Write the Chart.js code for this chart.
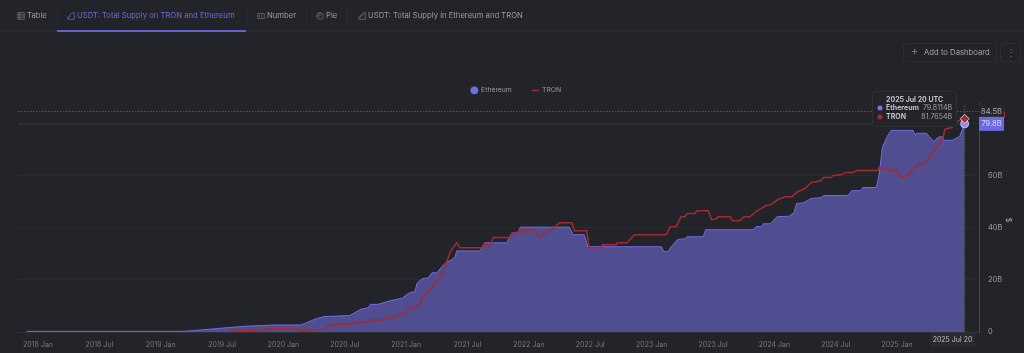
<!DOCTYPE html>
<html>
<head>
<meta charset="utf-8">
<style>
  html, body { margin: 0; padding: 0; width: 1024px; height: 353px; overflow: hidden; background: #232429; font-family: Inter, "Noto Sans", sans-serif; }
  #grafico { position: absolute; left: 0; top: 0; }
  .abas { position: absolute; left: 0; top: 0; width: 1024px; height: 31px; border-bottom: 1px solid #2a2b31; }
  .aba { position: absolute; top: 10px; font-size: 7.7px; line-height: 12px; color: #9a9ba1; white-space: nowrap; }
  .aba svg { position: absolute; left: -10px; top: 2px; }
  .aba.ativa { color: #6c6ad8; }
  .sep { position: absolute; top: 8px; width: 1px; height: 16px; background: #2b2c32; }
  .sublinha { position: absolute; left: 57px; top: 30px; width: 189px; height: 2px; background: #6461d0; }
  .botao { position: absolute; top: 43px; height: 17px; border: 1px solid #2c2d33; border-radius: 3px; color: #a0a1a7; font-size: 7.7px; line-height: 17px; }
</style>
</head>
<body>
<canvas id="grafico" width="1024" height="353"></canvas>
<div class="abas">
  <div class="aba" style="left:27px"><svg width="8" height="8" viewBox="0 0 11 11" fill="none" stroke="#77787e"><path d="M1 1h9v9H1zM1 4h9M1 7h9M4 1v9"/></svg>Table</div>
  <div class="sep" style="left:57px"></div>
  <div class="aba ativa" style="left:77px"><svg width="8" height="8" viewBox="0 0 11 11" fill="none" stroke="#6c6ad8"><path d="M1 10V7h3V4l3-3h3v9z"/></svg>USDT: Total Supply on TRON and Ethereum</div>
  <div class="sep" style="left:247px"></div>
  <div class="aba" style="left:267px"><svg width="8" height="8" viewBox="0 0 11 11" fill="none" stroke="#77787e"><path d="M1 2h9v7H1zM3.500 4v3M6 4v3"/></svg>Number</div>
  <div class="sep" style="left:306px"></div>
  <div class="aba" style="left:326px"><svg width="8" height="8" viewBox="0 0 11 11" fill="none" stroke="#77787e"><circle cx="5.500" cy="5.500" r="4.500"/><path d="M5.500 1v4.500H1"/></svg>Pie</div>
  <div class="sep" style="left:347px"></div>
  <div class="aba" style="left:368px"><svg width="8" height="8" viewBox="0 0 11 11" fill="none" stroke="#77787e"><path d="M1 10V7h3V4h3V1h3v9z"/></svg>USDT: Total Supply in Ethereum and TRON</div>
  <div class="sublinha"></div>
</div>
<div class="botao" style="left:903px;width:92px;"><span style="position:absolute;left:7px;top:-1px;font-size:11px;color:#85868c">+</span><span style="position:absolute;left:20px;white-space:nowrap">Add to Dashboard</span></div>
<div class="botao" style="left:1000px;width:19px;text-align:center;color:#6f7076;font-size:10px;line-height:16px">⋮</div>

<script src="https://cdn.jsdelivr.net/npm/chart.js@4"></script>
<script>
// datas em ano decimal (2021.5 = meio de 2021), valores em bilhoes de USDT
const anosEthereum = [
  2017.91, 2019.18, 2019.26, 2019.53, 2019.69, 2019.93, 2020.14, 2020.18, 2020.26, 2020.33,
  2020.54, 2020.63, 2020.69, 2020.71, 2020.77, 2020.87, 2020.97, 2021.02, 2021.07, 2021.09,
  2021.13, 2021.18, 2021.21, 2021.25, 2021.29, 2021.32, 2021.37, 2021.40, 2021.41, 2021.60,
  2021.64, 2021.82, 2021.86, 2021.91, 2021.93, 2022.33, 2022.36, 2022.45, 2022.48, 2023.08,
  2023.10, 2023.13, 2023.16, 2023.21, 2023.27, 2023.29, 2023.42, 2023.44, 2023.83, 2023.85,
  2023.90, 2023.91, 2023.97, 2024.02, 2024.12, 2024.16, 2024.18, 2024.24, 2024.30, 2024.38,
  2024.40, 2024.60, 2024.63, 2024.70, 2024.72, 2024.83, 2024.85, 2024.86, 2024.88, 2024.92,
  2024.95, 2025.13, 2025.15, 2025.16, 2025.24, 2025.26, 2025.30, 2025.33, 2025.37, 2025.38,
  2025.45, 2025.51, 2025.55
];
const valoresEthereum = [
  0.25, 0.25, 0.5, 1.6, 2.2, 2.7, 2.7, 3.4, 5, 5.9,
  6.3, 8.7, 9.3, 10.6, 10.6, 12, 13, 14.9, 15.5, 18.8,
  20.4, 20.8, 22.7, 22.7, 25, 26.5, 27.7, 28.8, 31.1, 31.1,
  34.2, 34.2, 38, 38, 40.2, 40.2, 37.3, 37.3, 32.7, 32.7,
  30.8, 30.8, 32.7, 35.4, 35.8, 36.5, 36.5, 39.2, 39.2, 40.4,
  40.4, 41.5, 41.5, 44.2, 44.4, 45.8, 49.2, 49.6, 51.2, 51.5,
  52.3, 52.3, 54.2, 54.2, 55.4, 55.4, 59.6, 63, 70.8, 75,
  77.3, 77.3, 75.4, 76.2, 76.2, 75, 73, 74.6, 75, 73.5,
  73.5, 75, 79.8
];

const anosTron = [
  2019.57, 2019.81, 2019.87, 2020.11, 2020.15, 2020.33, 2020.37, 2020.42, 2020.56, 2020.59,
  2020.67, 2020.69, 2020.80, 2020.87, 2020.98, 2021.02, 2021.11, 2021.13, 2021.17, 2021.26,
  2021.29, 2021.32, 2021.36, 2021.41, 2021.44, 2021.62, 2021.64, 2021.68, 2021.71, 2021.85,
  2021.86, 2021.90, 2021.93, 2021.95, 2021.98, 2021.99, 2022.01, 2022.05, 2022.08, 2022.11,
  2022.195, 2022.25, 2022.35, 2022.37, 2022.47, 2022.49, 2022.59, 2022.60, 2022.71, 2022.72,
  2022.80, 2022.86, 2023.12, 2023.15, 2023.20, 2023.24, 2023.27, 2023.29, 2023.35, 2023.37,
  2023.46, 2023.49, 2023.53, 2023.54, 2023.64, 2023.66, 2023.72, 2023.75, 2023.80, 2023.86,
  2023.89, 2023.93, 2023.97, 2024.03, 2024.09, 2024.145, 2024.19, 2024.25, 2024.30, 2024.38,
  2024.40, 2024.46, 2024.48, 2024.55, 2024.58, 2024.64, 2024.675, 2024.84, 2024.85, 2024.89,
  2024.93, 2025.00, 2025.02, 2025.07, 2025.12, 2025.17, 2025.23, 2025.27, 2025.33, 2025.37,
  2025.39, 2025.45, 2025.49, 2025.55
];
const valoresTron = [
  0.4, 0.8, 1.2, 1.2, 0.6, 1.1, 2.3, 3, 3, 3.8,
  3.8, 4.6, 4.6, 5.4, 6.9, 8.8, 10.4, 13.5, 15, 20,
  21.9, 25.8, 30.8, 34.2, 32.3, 32.3, 34.2, 32.7, 36.2, 36.2,
  38, 38, 39.2, 38, 39.2, 38, 39.6, 38.8, 36.5, 37.3,
  39.6, 41.9, 41.9, 38.8, 38.8, 32.3, 32.3, 33.5, 33.5, 34.2,
  34.2, 37.3, 37.3, 40.4, 40.4, 44.2, 44.2, 45.4, 45.4, 46.5,
  46.5, 43, 43.5, 44.2, 44.2, 42.7, 42.7, 44.2, 44.2, 46.5,
  47.3, 48.5, 48.8, 50.8, 51.9, 51.9, 53.8, 55, 57.3, 58,
  59.2, 59.2, 60, 60.4, 61.2, 61.2, 61.9, 61.9, 63, 62.7,
  61.9, 61.9, 59.6, 59.6, 61.9, 64.2, 64.6, 68, 71.2, 73.8,
  77.7, 78.5, 80.8, 81.8
];

const ticksX = [2018, 2018.5, 2019, 2019.5, 2020, 2020.5, 2021, 2021.5, 2022, 2022.5, 2023, 2023.5, 2024, 2024.5, 2025];
const rotulosX = ['2018 Jan', '2018 Jul', '2019 Jan', '2019 Jul', '2020 Jan', '2020 Jul', '2021 Jan', '2021 Jul', '2022 Jan', '2022 Jul', '2023 Jan', '2023 Jul', '2024 Jan', '2024 Jul', '2025 Jan'];
const ticksY = [0, 20, 40, 60, 80];

const anoFinal = 2025.55;
const finalEthereum = 79.8114;
const finalTron = 81.7654;
const topoCursor = 84.5;

function pontos(anos, valores) {
  return anos.map((ano, i) => ({ x: ano, y: valores[i] }));
}

// caixinha de rotulo no eixo da direita
function rotuloEixo(c, texto, y, fundo, cor) {
  c.fillStyle = fundo;
  c.fillRect(979, y - 7, 25, 14);
  c.fillStyle = cor;
  c.font = '7.5px Inter';
  c.textAlign = 'center';
  c.textBaseline = 'middle';
  c.fillText(texto, 991.5, y);
}

const cursor = {
  id: 'cursor',
  afterDatasetsDraw(chart) {
    const c = chart.ctx;
    const sx = chart.scales.x;
    const sy = chart.scales.y;
    const xFim = sx.getPixelForValue(anoFinal);
    const yEth = sy.getPixelForValue(finalEthereum);
    const yTron = sy.getPixelForValue(finalTron);
    const yTopo = Math.round(sy.getPixelForValue(topoCursor)) - 0.5;

    c.save();
    // linhas do cursor
    c.lineWidth = 1;
    c.strokeStyle = '#56575c';
    c.setLineDash([1.5, 1.5]);
    c.beginPath();
    c.moveTo(sx.left, yTopo);
    c.lineTo(sx.right, yTopo);
    c.moveTo(xFim, yTopo - 6);
    c.lineTo(xFim, sy.bottom);
    c.stroke();
    c.setLineDash([]);
    c.strokeStyle = '#2e3331';
    c.beginPath();
    c.moveTo(sx.left, Math.round(yEth) + 0.5);
    c.lineTo(xFim, Math.round(yEth) + 0.5);
    c.stroke();

    // marcadores no ultimo ponto
    c.fillStyle = '#8f8df0';
    c.strokeStyle = '#c8c8dc';
    c.lineWidth = 1;
    c.beginPath();
    c.arc(xFim, yEth, 4, 0, Math.PI * 2);
    c.fill();
    c.stroke();
    c.fillStyle = '#a82a35';
    c.beginPath();
    c.moveTo(xFim, yTron - 4.5);
    c.lineTo(xFim + 4.5, yTron);
    c.lineTo(xFim, yTron + 4.5);
    c.lineTo(xFim - 4.5, yTron);
    c.closePath();
    c.fill();
    c.stroke();

    // rotulos do eixo y
    c.fillStyle = '#b02a30';
    c.fillRect(1003, yTopo, 2, 6);
    rotuloEixo(c, '84.5B', yTopo, '#26272c', '#a9aab0');
    rotuloEixo(c, '79.8B', yEth, '#6d6ae0', '#d8d8f5');

    // rotulo da data embaixo
    c.fillStyle = '#2a2b30';
    c.fillRect(930, 333, 45, 14);
    c.fillStyle = '#bcbdc2';
    c.font = '7px Inter';
    c.textAlign = 'center';
    c.textBaseline = 'middle';
    c.fillText('2025 Jul 20', 952.5, 340);

    // simbolo do eixo
    c.translate(1008, 220);
    c.rotate(Math.PI / 2);
    c.fillStyle = '#a9aab0';
    c.fillText('$', 0, 0);
    c.restore();

    // caixa da tooltip
    c.save();
    c.fillStyle = '#232429';
    c.strokeStyle = '#2e2f35';
    c.lineWidth = 1;
    c.beginPath();
    c.roundRect(872.5, 91.5, 84, 35, 2);
    c.fill();
    c.stroke();
    c.font = 'bold 7px Inter';
    c.fillStyle = '#c0c1c6';
    c.textBaseline = 'middle';
    c.textAlign = 'left';
    c.fillText('2025 Jul 20 UTC', 886, 99.5);
    c.fillText('Ethereum', 886, 108);
    c.fillText('TRON', 886, 117);
    c.font = '7px Inter';
    c.fillStyle = '#a0a1a7';
    c.textAlign = 'right';
    c.fillText(finalEthereum.toFixed(4) + 'B', 952, 108);
    c.fillText(finalTron.toFixed(4) + 'B', 952, 117);
    c.fillStyle = '#7674e8';
    c.beginPath();
    c.arc(880, 108, 2.5, 0, Math.PI * 2);
    c.fill();
    c.fillStyle = '#a82a35';
    c.beginPath();
    c.arc(880, 117, 2.5, 0, Math.PI * 2);
    c.fill();
    c.restore();
  }
};

new Chart(document.getElementById('grafico'), {
  type: 'line',
  data: {
    datasets: [
      {
        label: 'Ethereum',
        data: pontos(anosEthereum, valoresEthereum),
        borderColor: '#6f6de0',
        backgroundColor: '#504e90',
        borderWidth: 1,
        fill: 'origin',
        pointRadius: 0,
        tension: 0,
        pointStyle: 'circle',
        order: 2
      },
      {
        label: 'TRON',
        data: pontos(anosTron, valoresTron),
        borderColor: '#a32a30',
        backgroundColor: '#a32a30',
        borderWidth: 1.5,
        fill: false,
        pointRadius: 0,
        tension: 0,
        pointStyle: 'line',
        order: 1
      }
    ]
  },
  options: {
    responsive: false,
    animation: false,
    parsing: false,
    layout: { padding: { left: 18, top: 67, right: 10, bottom: 0 } },
    plugins: {
      tooltip: { enabled: false },
      legend: {
        position: 'top',
        align: 'center',
        labels: {
          usePointStyle: true,
          color: '#9a9ba1',
          font: { family: 'Inter', size: 6.8 },
          boxHeight: 5,
          padding: 20,
          sort: (a, b) => a.datasetIndex - b.datasetIndex,
          generateLabels(chart) {
            const itens = Chart.defaults.plugins.legend.labels.generateLabels(chart);
            itens.forEach(item => {
              if (item.datasetIndex === 0) {
                item.fillStyle = '#6f6de8';
                item.strokeStyle = '#6f6de8';
              }
            });
            return itens;
          }
        }
      }
    },
    scales: {
      x: {
        type: 'linear',
        min: 2017.837,
        max: 2025.667,
        afterBuildTicks(eixo) {
          eixo.ticks = ticksX.map(v => ({ value: v }));
        },
        afterFit(eixo) {
          eixo.height = 21;
        },
        grid: { display: false, drawTicks: false },
        border: { color: '#303136' },
        ticks: {
          color: '#77787e',
          font: { family: 'Inter', size: 7 },
          maxRotation: 0,
          autoSkip: false,
          padding: 9,
          callback: v => rotulosX[ticksX.indexOf(v)]
        }
      },
      y: {
        position: 'right',
        min: 0,
        max: 87.5,
        afterBuildTicks(eixo) {
          eixo.ticks = ticksY.map(v => ({ value: v }));
        },
        afterFit(eixo) {
          eixo.width = 35;
        },
        grid: { color: '#2a2b30', drawTicks: false },
        border: { color: '#47484e' },
        ticks: {
          color: '#9a9ba1',
          font: { family: 'Inter', size: 7.5 },
          padding: 9,
          callback: v => (v === 0 ? '0' : v + 'B')
        }
      }
    }
  },
  plugins: [cursor]
});
</script>
</body>
</html>
